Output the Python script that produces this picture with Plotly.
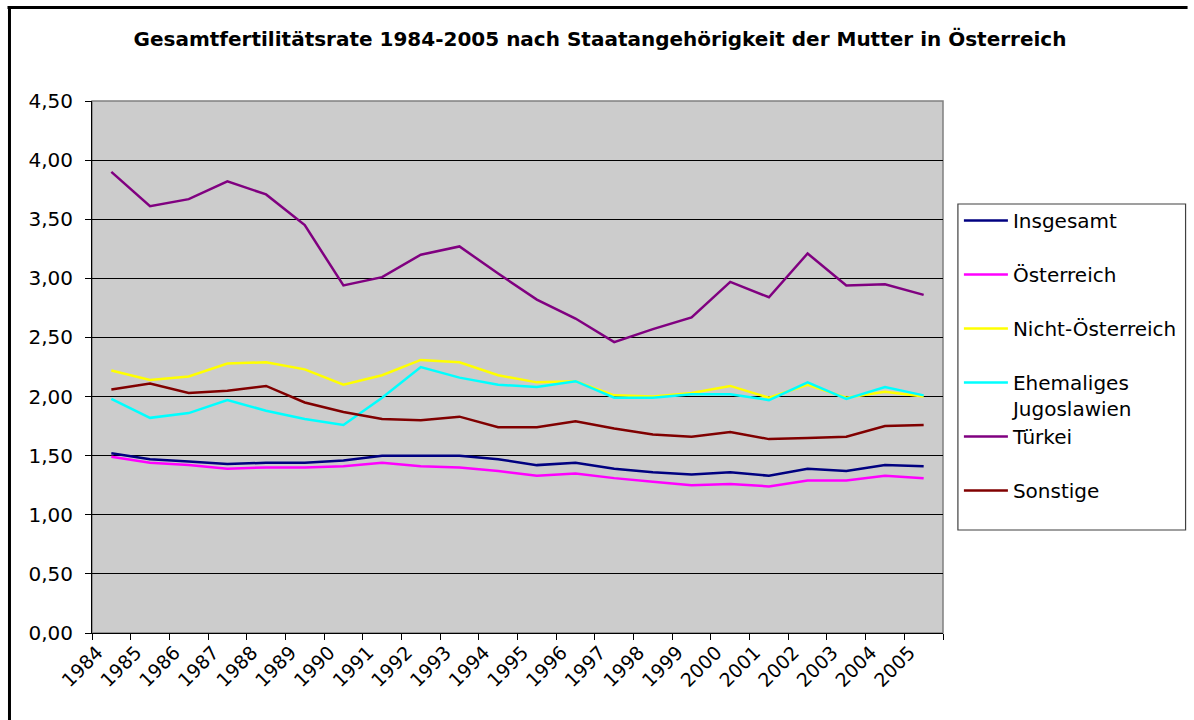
import plotly.graph_objects as go

years = [str(y) for y in range(1984, 2006)]

insgesamt = [1.52, 1.47, 1.45, 1.43, 1.44, 1.44, 1.46, 1.50, 1.50, 1.50, 1.47,
             1.42, 1.44, 1.39, 1.36, 1.34, 1.36, 1.33, 1.39, 1.37, 1.42, 1.41]
oesterreich = [1.49, 1.44, 1.42, 1.39, 1.40, 1.40, 1.41, 1.44, 1.41, 1.40, 1.37,
               1.33, 1.35, 1.31, 1.28, 1.25, 1.26, 1.24, 1.29, 1.29, 1.33, 1.31]
nicht_oesterreich = [2.22, 2.14, 2.17, 2.28, 2.29, 2.23, 2.10, 2.18, 2.31, 2.29, 2.18,
                     2.12, 2.13, 2.01, 2.00, 2.03, 2.09, 1.99, 2.10, 1.99, 2.04, 2.00]
jugoslawien = [1.98, 1.82, 1.86, 1.97, 1.88, 1.81, 1.76, 1.99, 2.25, 2.16, 2.10,
               2.08, 2.13, 1.99, 1.99, 2.02, 2.02, 1.97, 2.12, 1.98, 2.08, 2.01]
tuerkei = [3.90, 3.61, 3.67, 3.82, 3.71, 3.45, 2.94, 3.01, 3.20, 3.27, 3.04,
           2.82, 2.66, 2.46, 2.57, 2.67, 2.97, 2.84, 3.21, 2.94, 2.95, 2.86]
sonstige = [2.06, 2.11, 2.03, 2.05, 2.09, 1.95, 1.87, 1.81, 1.80, 1.83, 1.74,
            1.74, 1.79, 1.73, 1.68, 1.66, 1.70, 1.64, 1.65, 1.66, 1.75, 1.76]

series_names = ["Insgesamt", "Österreich", "Nicht-Österreich",
                "Ehemaliges<br>Jugoslawien", "Türkei", "Sonstige"]
series_values = [insgesamt, oesterreich, nicht_oesterreich, jugoslawien, tuerkei, sonstige]
series_colors = ["#000080", "#FF00FF", "#FFFF00", "#00FFFF", "#800080", "#800000"]
series_legend = ["legend", "legend", "legend", "legend", "legend2", "legend2"]

FONT = "DejaVu Sans, Verdana, sans-serif"

W, H = 1194, 720
PL, PR, PT, PB = 92, 948, 101, 633  # plot area in pixels


def px_x(px):
    return (px - PL) / (PR - PL)


def px_y(py):
    return (PB - py) / (PB - PT)


fig = go.Figure()
for i, (name, vals, col, lg) in enumerate(zip(series_names, series_values,
                                              series_colors, series_legend)):
    fig.add_trace(go.Scatter(
        x=years, y=vals, mode="lines", name=name,
        line=dict(color=col, width=2.5),
        legendgroup=f"g{i}",
        legend=lg,
    ))

legend_common = dict(
    xanchor="left", yanchor="top",
    bgcolor="rgba(0,0,0,0)",
    borderwidth=0,
    font=dict(family=FONT, size=20, color="black"),
    tracegroupgap=25,
    valign="top",
    itemwidth=44,
)

fig.update_layout(
    width=W, height=H,
    margin=dict(l=PL, r=W - PR, t=PT, b=H - PB),
    paper_bgcolor="white",
    plot_bgcolor="#CCCCCC",
    separators=",.",
    font=dict(family=FONT, color="black"),
    title=dict(
        text="<b>Gesamtfertilitätsrate 1984-2005 nach Staatangehörigkeit der Mutter in Österreich</b>",
        x=600 / W, xref="container", xanchor="center",
        y=1 - 39 / H, yref="container", yanchor="middle",
        font=dict(family=FONT, size=20, color="black"),
    ),
    showlegend=True,
    legend=dict(x=px_x(964), y=px_y(201), **legend_common),
    legend2=dict(x=px_x(964), y=px_y(417), **legend_common),
    xaxis=dict(
        type="category",
        tickson="boundaries",
        ticks="outside", ticklen=6, tickcolor="black", tickwidth=1,
        showgrid=False,
        showline=True, linecolor="black", linewidth=1,
        tickangle=-45,
        ticklabelshift=-14,
        tickfont=dict(family=FONT, size=19, color="black"),
        range=[-0.5, 21.5],
    ),
    yaxis=dict(
        range=[0, 4.5],
        dtick=0.5, tick0=0,
        tickformat=".2f",
        ticks="outside", ticklen=6, tickcolor="black", tickwidth=1,
        ticklabelstandoff=8,
        showgrid=True, gridcolor="black", gridwidth=1,
        showline=True, linecolor="black", linewidth=1,
        zeroline=False,
        tickfont=dict(family=FONT, size=20, color="black"),
    ),
    shapes=[
        # plot area frame (gray top/right)
        dict(type="rect", xref="paper", yref="paper", x0=0, x1=1, y0=0, y1=1,
             line=dict(color="#808080", width=1.5), layer="below"),
        # legend box
        dict(type="rect", xref="paper", yref="paper",
             x0=px_x(963), x1=px_x(1192), y0=px_y(530), y1=px_y(204),
             line=dict(color="#404040", width=1.2), fillcolor="white", layer="below"),
        # outer chart border (top and left edges, inside the figure)
        dict(type="line", xref="paper", yref="paper",
             x0=px_x(7), x1=px_x(W), y0=px_y(7.5), y1=px_y(7.5),
             line=dict(color="black", width=3)),
        dict(type="line", xref="paper", yref="paper",
             x0=px_x(9), x1=px_x(9), y0=px_y(6), y1=px_y(H),
             line=dict(color="black", width=3)),
    ],
)

fig.write_html(
    "out.html",
    config={"displayModeBar": False},
    post_script=(
        "document.body.style.margin='0px';"
        "document.body.style.overflow='hidden';"
        "document.documentElement.style.overflow='hidden';"
        "var gd=document.querySelector('.plotly-graph-div');"
        "if(gd){gd.style.overflow='hidden';}"
    ),
)
